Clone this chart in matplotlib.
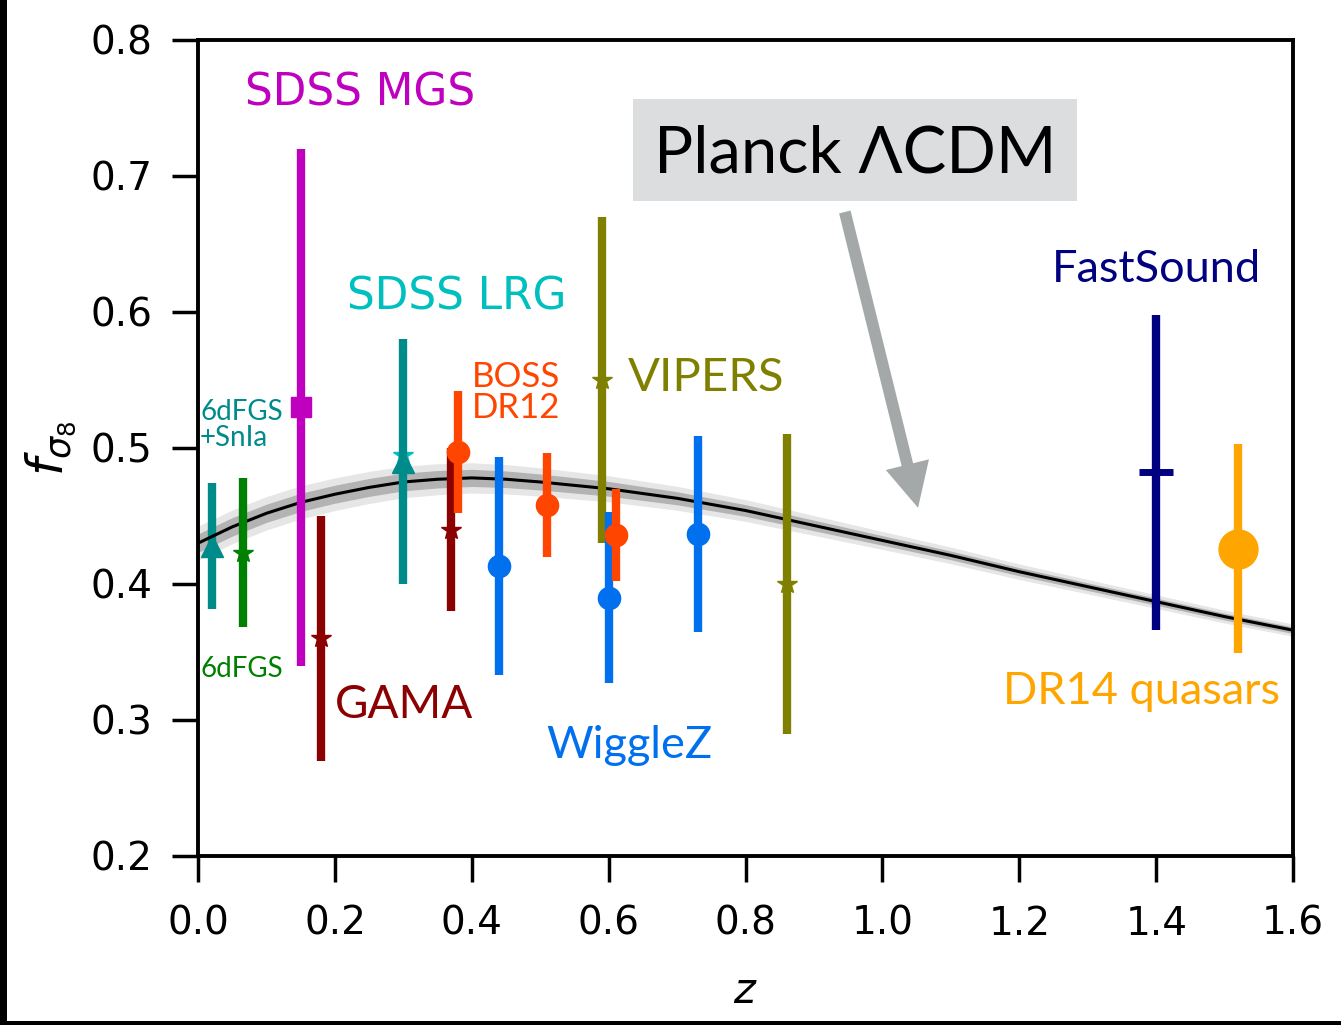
import matplotlib
matplotlib.use("Agg")
import matplotlib.pyplot as plt
from matplotlib.patches import Rectangle

# ---- Planck LCDM prediction for f*sigma8(z) with 1- and 2-sigma half widths ----
z_model = [0.00, 0.05, 0.10, 0.15, 0.20, 0.25, 0.30, 0.35, 0.40, 0.45, 0.50,
           0.60, 0.70, 0.80, 0.90, 1.00, 1.10, 1.20, 1.30, 1.40, 1.50, 1.60]
fs8_model = [0.430, 0.442, 0.452, 0.460, 0.466, 0.471, 0.475, 0.477, 0.478, 0.477, 0.475,
             0.470, 0.463, 0.454, 0.443, 0.432, 0.421, 0.409, 0.398, 0.387, 0.376, 0.366]
band_1sig = [0.0068, 0.0068, 0.0067, 0.0067, 0.0066, 0.0066, 0.0065, 0.0064, 0.0063, 0.0061, 0.0059,
             0.0054, 0.0048, 0.0043, 0.0039, 0.0035, 0.0032, 0.0030, 0.0028, 0.0026, 0.0025, 0.0024]
band_2sig = [0.0125, 0.0124, 0.0123, 0.0122, 0.0120, 0.0118, 0.0116, 0.0114, 0.0111, 0.0108, 0.0104,
             0.0096, 0.0088, 0.0080, 0.0073, 0.0066, 0.0061, 0.0057, 0.0053, 0.0050, 0.0047, 0.0045]

# ---- growth-rate measurements: redshift, f*sigma8, 1-sigma error ----
z_6df_sn, fs8_6df_sn, err_6df_sn = [0.02], [0.428], [0.0465]
z_6df, fs8_6df, err_6df = [0.065], [0.423], [0.055]
z_mgs, fs8_mgs, err_mgs = [0.15], [0.53], [0.19]
z_gama, fs8_gama, err_gama = [0.18, 0.37], [0.36, 0.44], [0.09, 0.06]
z_lrg, fs8_lrg, err_lrg = [0.30], [0.49], [0.09]
z_lrg_b, fs8_lrg_b = [0.30], [0.495]
z_boss, fs8_boss, err_boss = [0.38, 0.51, 0.61], [0.497, 0.458, 0.436], [0.045, 0.038, 0.034]
z_wig, fs8_wig, err_wig = [0.44, 0.60, 0.73], [0.413, 0.390, 0.437], [0.080, 0.063, 0.072]
z_vip, fs8_vip, err_vip = [0.59, 0.86], [0.55, 0.40], [0.12, 0.11]
z_fsd, fs8_fsd, err_fsd = [1.40], [0.482], [0.116]
z_qso, fs8_qso, err_qso = [1.52], [0.426], [0.077]

x_ticks = [0.0, 0.2, 0.4, 0.6, 0.8, 1.0, 1.2, 1.4, 1.6]
y_ticks = [0.2, 0.3, 0.4, 0.5, 0.6, 0.7, 0.8]

HUMAN = ["Lato", "DejaVu Sans"]

fig = plt.figure(figsize=(13.41, 10.25), dpi=100)
ax = fig.add_axes([0.1477, 0.1649, 0.8166, 0.7961])

# model band and curve
lo2 = [m - s for m, s in zip(fs8_model, band_2sig)]
hi2 = [m + s for m, s in zip(fs8_model, band_2sig)]
lo1 = [m - s for m, s in zip(fs8_model, band_1sig)]
hi1 = [m + s for m, s in zip(fs8_model, band_1sig)]
ax.fill_between(z_model, lo2, hi2, color="#e6e6e6", lw=0, zorder=1)
ax.fill_between(z_model, lo1, hi1, color="#b3b3b3", lw=0, zorder=1.1)

lw_bar = 6


def points(z, v, e, color, marker, ms, zo=3, **kw):
    ax.errorbar(z, v, yerr=e, fmt=marker, color=color, ms=ms, elinewidth=lw_bar,
                capsize=0, mec=color, mfc=color, zorder=zo, **kw)


points(z_6df_sn, fs8_6df_sn, err_6df_sn, "#008b8b", "^", 16, zo=2)
ax.plot(z_model, fs8_model, color="black", lw=2.2, zorder=2.5)
points(z_6df, fs8_6df, err_6df, "#008000", "*", 15)
points(z_mgs, fs8_mgs, err_mgs, "#bf00bf", "s", 15)
points(z_gama, fs8_gama, err_gama, "#8b0000", "*", 15)
ax.plot(z_lrg_b, fs8_lrg_b, "*", color="#00bfbf", ms=15, zorder=3)
points(z_lrg, fs8_lrg, err_lrg, "#008b8b", "^", 16, zo=3.1)
points(z_vip, fs8_vip, err_vip, "#808000", "*", 15)
points(z_wig, fs8_wig, err_wig, "#0070ee", "o", 16, zo=3.2)
points(z_boss, fs8_boss, err_boss, "#ff4500", "o", 16, zo=3.3)
points(z_fsd, fs8_fsd, err_fsd, "#000080", "_", 25, mew=5)
points(z_qso, fs8_qso, err_qso, "#ffa500", "o", 28)

# survey labels
ax.text(0.0687, 0.761, "SDSS MGS", color="#bf00bf", fontsize=31.5, va="center", family="DejaVu Sans")
ax.text(0.2177, 0.611, "SDSS LRG", color="#00bfbf", fontsize=31.5, va="center", family="DejaVu Sans")
ax.text(0.003, 0.517, "6dFGS\n+SnIa", color="#008b8b", fontsize=20, va="center",
        family=HUMAN, linespacing=1.0)
ax.text(0.003, 0.3375, "6dFGS", color="#008000", fontsize=20, va="center", family=HUMAN)
ax.text(0.200, 0.311, "GAMA", color="#8b0000", fontsize=33, va="center", family=HUMAN)
ax.text(0.400, 0.541, "BOSS\nDR12", color="#ff4500", fontsize=25, va="center",
        family=HUMAN, linespacing=0.95)
ax.text(0.628, 0.5515, "VIPERS", color="#808000", fontsize=34, va="center", family=HUMAN)
ax.text(0.5085, 0.281, "WiggleZ", color="#0070ee", fontsize=32.5, va="center", family=HUMAN)
ax.text(1.248, 0.631, "FastSound", color="#000080", fontsize=32.5, va="center", family=HUMAN)
ax.text(1.176, 0.3206, "DR14 quasars", color="#ffa500", fontsize=32.5, va="center", family=HUMAN)

# model annotation box and arrow
ax.add_patch(Rectangle((0.3973, 0.8027), 0.4054, 0.125, transform=ax.transAxes,
                       facecolor="#dcdddf", edgecolor="none", zorder=4))
ax.text(0.6, 0.837, "Planck \u039bCDM", transform=ax.transAxes, ha="center", va="baseline",
        fontsize=47, family=HUMAN, zorder=5)
ax.annotate("", xy=(1.052, 0.456), xytext=(0.945, 0.6735),
            arrowprops=dict(width=8.5, headwidth=32, headlength=32, color="#a5a8a8",
                            shrink=0, lw=0), zorder=4)

ax.set_xlim(0, 1.6)
ax.set_ylim(0.2, 0.8)
ax.set_xticks(x_ticks)
ax.set_yticks(y_ticks)
ax.set_xticklabels([f"{t:.1f}" for t in x_ticks])
ax.set_yticklabels([f"{t:.1f}" for t in y_ticks])
ax.tick_params(direction="out", length=19, width=2.5, labelsize=28, pad=16)
ax.tick_params(axis="y", pad=14)
for sp in ax.spines.values():
    sp.set_linewidth(2.8)

ax.set_xlabel(r"$z$", fontsize=30, labelpad=20)
ax.set_ylabel(r"$f_{\sigma_8}$", fontsize=36, labelpad=8)

# dark frame strips along the left and bottom edges
fig.patches.append(Rectangle((0, 0), 7 / 1341, 1, transform=fig.transFigure,
                             facecolor="black", edgecolor="none"))
fig.patches.append(Rectangle((0, 0), 1, 4 / 1025, transform=fig.transFigure,
                             facecolor="black", edgecolor="none"))

fig.savefig("out.png", dpi=100)
